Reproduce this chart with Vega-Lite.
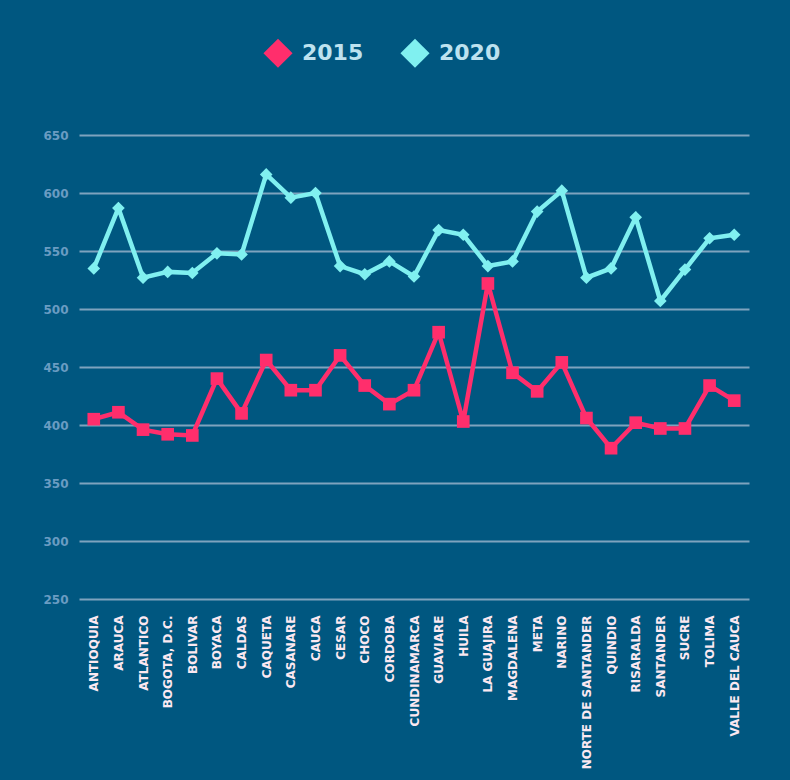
{
  "$schema": "https://vega.github.io/schema/vega-lite/v6.json",
  "width": 670,
  "height": 464,
  "autosize": {"type": "none"},
  "padding": {"left": 79, "top": 135, "right": 41, "bottom": 181},
  "background": "#005780",
  "config": {"view": {"stroke": null}, "font": "DejaVu Sans"},
  "data": {"values": [
    {"dept": "ANTIOQUIA", "year": "2015", "v": 405},
    {"dept": "ARAUCA", "year": "2015", "v": 411},
    {"dept": "ATLANTICO", "year": "2015", "v": 396},
    {"dept": "BOGOTA, D.C.", "year": "2015", "v": 392},
    {"dept": "BOLIVAR", "year": "2015", "v": 391},
    {"dept": "BOYACA", "year": "2015", "v": 440},
    {"dept": "CALDAS", "year": "2015", "v": 410},
    {"dept": "CAQUETA", "year": "2015", "v": 456},
    {"dept": "CASANARE", "year": "2015", "v": 430},
    {"dept": "CAUCA", "year": "2015", "v": 430},
    {"dept": "CESAR", "year": "2015", "v": 460},
    {"dept": "CHOCO", "year": "2015", "v": 434},
    {"dept": "CORDOBA", "year": "2015", "v": 418},
    {"dept": "CUNDINAMARCA", "year": "2015", "v": 430},
    {"dept": "GUAVIARE", "year": "2015", "v": 480},
    {"dept": "HUILA", "year": "2015", "v": 403},
    {"dept": "LA GUAJIRA", "year": "2015", "v": 522},
    {"dept": "MAGDALENA", "year": "2015", "v": 445},
    {"dept": "META", "year": "2015", "v": 429},
    {"dept": "NARINO", "year": "2015", "v": 454},
    {"dept": "NORTE DE SANTANDER", "year": "2015", "v": 406},
    {"dept": "QUINDIO", "year": "2015", "v": 380},
    {"dept": "RISARALDA", "year": "2015", "v": 402},
    {"dept": "SANTANDER", "year": "2015", "v": 397},
    {"dept": "SUCRE", "year": "2015", "v": 397},
    {"dept": "TOLIMA", "year": "2015", "v": 434},
    {"dept": "VALLE DEL CAUCA", "year": "2015", "v": 421},
    {"dept": "ANTIOQUIA", "year": "2020", "v": 535},
    {"dept": "ARAUCA", "year": "2020", "v": 587},
    {"dept": "ATLANTICO", "year": "2020", "v": 527},
    {"dept": "BOGOTA, D.C.", "year": "2020", "v": 532},
    {"dept": "BOLIVAR", "year": "2020", "v": 531},
    {"dept": "BOYACA", "year": "2020", "v": 548},
    {"dept": "CALDAS", "year": "2020", "v": 547},
    {"dept": "CAQUETA", "year": "2020", "v": 616},
    {"dept": "CASANARE", "year": "2020", "v": 596},
    {"dept": "CAUCA", "year": "2020", "v": 600},
    {"dept": "CESAR", "year": "2020", "v": 537},
    {"dept": "CHOCO", "year": "2020", "v": 530},
    {"dept": "CORDOBA", "year": "2020", "v": 541},
    {"dept": "CUNDINAMARCA", "year": "2020", "v": 528},
    {"dept": "GUAVIARE", "year": "2020", "v": 568},
    {"dept": "HUILA", "year": "2020", "v": 564},
    {"dept": "LA GUAJIRA", "year": "2020", "v": 537},
    {"dept": "MAGDALENA", "year": "2020", "v": 541},
    {"dept": "META", "year": "2020", "v": 584},
    {"dept": "NARINO", "year": "2020", "v": 602},
    {"dept": "NORTE DE SANTANDER", "year": "2020", "v": 527},
    {"dept": "QUINDIO", "year": "2020", "v": 535},
    {"dept": "RISARALDA", "year": "2020", "v": 579},
    {"dept": "SANTANDER", "year": "2020", "v": 507},
    {"dept": "SUCRE", "year": "2020", "v": 534},
    {"dept": "TOLIMA", "year": "2020", "v": 561},
    {"dept": "VALLE DEL CAUCA", "year": "2020", "v": 564}
  ]},
  "encoding": {
    "x": {
      "field": "dept", "type": "nominal", "sort": null,
      "scale": {"type": "point", "padding": 0.6},
      "axis": {
        "title": null, "domain": false, "ticks": false, "grid": false,
        "labelAngle": -90, "labelPadding": 16, "labelFontSize": 12,
        "labelFontWeight": "bold", "labelColor": "#fbe8f1", "labelFont": "DejaVu Sans"
      }
    },
    "y": {
      "field": "v", "type": "quantitative",
      "scale": {"domain": [250, 650], "nice": false, "zero": false},
      "axis": {
        "title": null, "domain": false, "ticks": false,
        "values": [250, 300, 350, 400, 450, 500, 550, 600, 650],
        "grid": true, "gridColor": "#7ea3be", "gridWidth": 2,
        "labelPadding": 11, "labelFontSize": 12, "labelFontWeight": "bold",
        "labelColor": "#6a9cc2", "labelFont": "DejaVu Sans"
      }
    },
    "color": {
      "field": "year", "type": "nominal",
      "scale": {"domain": ["2015", "2020"], "range": ["#ff2e6c", "#80f0f0"]},
      "legend": {
        "orient": "none", "legendX": 184, "legendY": -97,
        "direction": "horizontal", "title": null,
        "symbolType": "diamond", "symbolSize": 850, "symbolOpacity": 1,
        "symbolStrokeWidth": 0,
        "labelFontSize": 22, "labelFont": "DejaVu Sans", "labelFontWeight": "bold",
        "labelColor": "#bde2ef", "labelOffset": 9, "columnPadding": 36, "padding": 0
      }
    }
  },
  "layer": [
    {
      "mark": {"type": "line", "strokeWidth": 4.5}
    },
    {
      "mark": {"type": "point", "filled": true, "opacity": 1, "size": 160},
      "encoding": {
        "shape": {
          "condition": {"test": "datum.year === '2015'", "value": "square"},
          "value": "diamond"
        }
      }
    }
  ]
}
